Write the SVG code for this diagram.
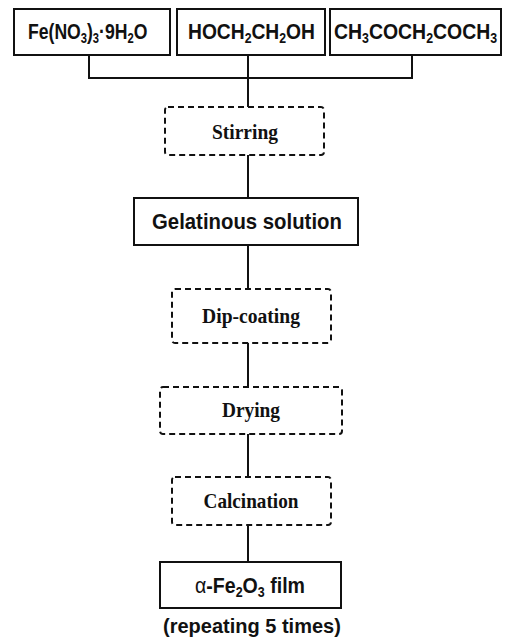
<svg xmlns="http://www.w3.org/2000/svg" width="510" height="641" viewBox="0 0 510 641">
<style>
.bg{fill:#fff}
.solid{fill:#fff;stroke:#111;stroke-width:2}
.dash{fill:#fff;stroke:#111;stroke-width:2;stroke-dasharray:6 4}
.sans{font-family:"Liberation Sans",Arial,sans-serif;font-weight:bold;font-size:22px;fill:#111}
.serif{font-family:"Liberation Serif","Times New Roman",serif;font-weight:bold;font-size:22px;fill:#111;text-anchor:middle}
.sub{font-size:14px}
.cap{font-size:20px}
.conn{fill:none;stroke:#111;stroke-width:2}
</style>
<rect class="bg" width="510" height="641"/>
<g id="connectors">
<path class="conn" d="M89 55 V78 H412 V55"/>
<path class="conn" d="M248 55 V107"/>
<path class="conn" d="M248 155 V198"/>
<path class="conn" d="M248 245 V289"/>
<path class="conn" d="M248 343 V387"/>
<path class="conn" d="M248 434 V477"/>
<path class="conn" d="M248 525 V562"/>
</g>
<g id="fe-nitrate">
<rect class="solid" x="14" y="9" width="156" height="46"/>
<text class="sans" transform="translate(28 39) scale(0.8 1)">Fe(NO<tspan class="sub" dy="4">3</tspan><tspan dy="-4">)</tspan><tspan class="sub" dy="4">3</tspan><tspan dy="-4">·9H</tspan><tspan class="sub" dy="4">2</tspan><tspan dy="-4">O</tspan></text>
</g>
<g id="ethylene-glycol">
<rect class="solid" x="177" y="9" width="148" height="46"/>
<text class="sans" transform="translate(188 39) scale(0.875 1)">HOCH<tspan class="sub" dy="4">2</tspan><tspan dy="-4">CH</tspan><tspan class="sub" dy="4">2</tspan><tspan dy="-4">OH</tspan></text>
</g>
<g id="acetylacetone">
<rect class="solid" x="330" y="9" width="171" height="46"/>
<text class="sans" transform="translate(334 39) scale(0.883 1)">CH<tspan class="sub" dy="4">3</tspan><tspan dy="-4">COCH</tspan><tspan class="sub" dy="4">2</tspan><tspan dy="-4">COCH</tspan><tspan class="sub" dy="4">3</tspan></text>
</g>
<g id="stirring">
<rect class="dash" x="165" y="107" width="159" height="48" rx="3"/>
<text class="serif" transform="translate(245 139) scale(0.885 1)">Stirring</text>
</g>
<g id="gelatinous">
<rect class="solid" x="134" y="198" width="224" height="47"/>
<text class="sans" transform="translate(152 229) scale(0.925 1)">Gelatinous solution</text>
</g>
<g id="dip-coating">
<rect class="dash" x="172" y="289" width="159" height="54" rx="3"/>
<text class="serif" transform="translate(251 323) scale(0.89 1)">Dip-coating</text>
</g>
<g id="drying">
<rect class="dash" x="160" y="387" width="182" height="47" rx="3"/>
<text class="serif" transform="translate(251 417) scale(0.88 1)">Drying</text>
</g>
<g id="calcination">
<rect class="dash" x="172" y="477" width="159" height="48" rx="3"/>
<text class="serif" transform="translate(251 508) scale(0.873 1)">Calcination</text>
</g>
<g id="film">
<rect class="solid" x="160" y="562" width="181" height="46"/>
<text class="sans" transform="translate(195 593) scale(0.89 1)"><tspan font-weight="normal">α</tspan>-Fe<tspan class="sub" dy="4">2</tspan><tspan dy="-4">O</tspan><tspan class="sub" dy="4">3</tspan><tspan dy="-4"> film</tspan></text>
</g>
<g id="caption">
<text class="sans cap" transform="translate(163 633)">(repeating 5 times)</text>
</g>
</svg>
